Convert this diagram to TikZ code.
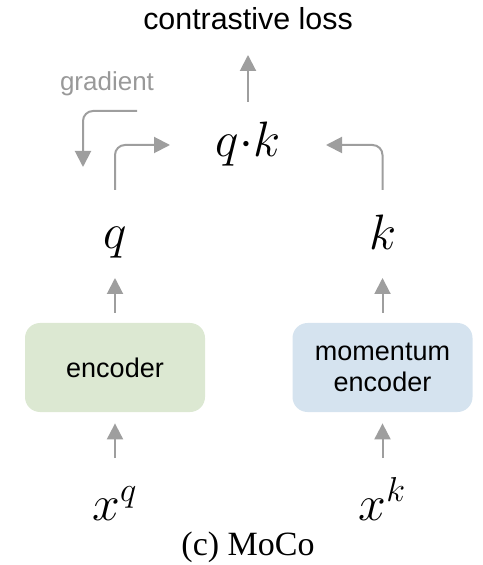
\documentclass[tikz,border=0pt]{standalone}
\usepackage{fontspec}
\newfontfamily\arialfont{Liberation Sans}
\newfontfamily\timesfont{Liberation Serif}
\usetikzlibrary{arrows.meta}
\definecolor{arrowgray}{HTML}{9E9E9E}
\definecolor{gradgray}{HTML}{999999}
\definecolor{encgreen}{HTML}{DCE8D2}
\definecolor{encblue}{HTML}{D5E3EF}
\begin{document}
\begin{tikzpicture}[x=0.5pt,y=-0.5pt,
  arr/.style={draw=arrowgray, line width=1pt, -{Triangle[length=8pt,width=8pt]}},
  sanslbl/.style={inner sep=0pt, font=\arialfont\fontsize{15.2}{18}\selectfont},
  gradlbl/.style={inner sep=0pt, text=gradgray, font=\arialfont\fontsize{13}{15}\selectfont},
  mathlbl/.style={inner sep=0pt, font=\fontsize{25}{30}\selectfont},
  capt/.style={inner sep=0pt, font=\timesfont\fontsize{17}{20}\selectfont},
  encbox/.style={rounded corners=7.5pt, minimum width=90pt, minimum height=44.5pt, inner sep=0pt, align=center, font=\arialfont\fontsize{13.5}{15.5}\selectfont},
  ]
\useasboundingbox (0,0) rectangle (482,565);

\node[sanslbl, anchor=base] (loss) at (248,30) {contrastive loss};
\node[gradlbl, anchor=base] (gradtxt) at (107,91) {gradient};
\node[mathlbl, anchor=base] (qk) at (248,157) {$q{\cdot}k$};
\node[mathlbl, anchor=base] (q) at (115,249) {$q$};
\node[mathlbl, anchor=base] (k) at (382.5,250) {$k$};
\node[encbox, fill=encgreen] (enc) at (115,367.5) {encoder};
\node[encbox, fill=encblue] (menc) at (382.5,367.5) {momentum\\encoder};
\node[mathlbl, anchor=base] (xq) at (115,520) {$x^q$};
\node[mathlbl, anchor=base] (xk) at (382.5,520) {$x^k$};
\node[capt, anchor=base] (cap) at (248,555) {(c) MoCo};

\draw[arr] ([yshift=27.5pt]qk.base) -- ([yshift=-12.5pt]loss.base);
\draw[arr, rounded corners=5pt] ([xshift=15pt,yshift=-10pt]gradtxt.base) -| ([xshift=-12pt,yshift=-38pt]gradtxt.base);
\draw[arr, rounded corners=5pt] ([yshift=29.5pt]q.base) |- ([xshift=-39pt,yshift=6pt]qk.base);
\draw[arr, rounded corners=5pt] ([yshift=30pt]k.base) |- ([xshift=39pt,yshift=6pt]qk.base);
\draw[arr] ([yshift=5pt]enc.north) -- ([yshift=-14.5pt]q.base);
\draw[arr] ([yshift=5pt]menc.north) -- ([yshift=-14pt]k.base);
\draw[arr] ([yshift=31pt]xq.base) -- ([yshift=-5.5pt]enc.south);
\draw[arr] ([yshift=31pt]xk.base) -- ([yshift=-5.5pt]menc.south);
\end{tikzpicture}
\end{document}
